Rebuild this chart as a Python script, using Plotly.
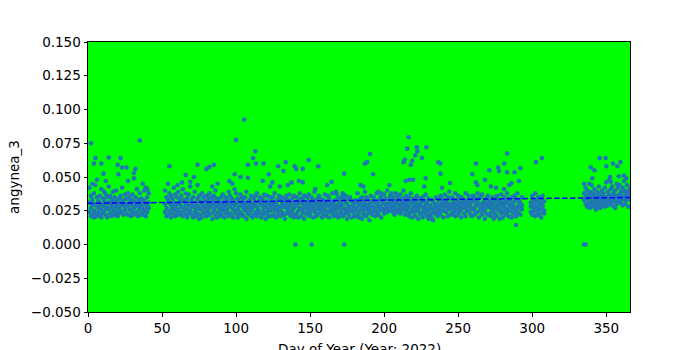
import numpy as np
import plotly.graph_objects as go

# Bulk daily readings (day, values in thousandths)
seg_winter = [
    (1, 31, 24, 42), (2, 27, 21, 36), (3, 33, 22, 29), (4, 25, 38, 20), (5, 30, 23, 44),
    (6, 28, 35, 21), (7, 24, 32, 27), (8, 36, 22, 30), (9, 26, 41, 20), (10, 29, 23, 34),
    (11, 32, 25, 39), (12, 22, 28, 37), (13, 35, 20, 27), (14, 26, 31, 43), (15, 23, 30, 36),
    (16, 33, 21, 28), (17, 25, 39, 31), (18, 28, 22, 35), (19, 32, 24, 40), (20, 21, 30, 27),
    (21, 27, 34, 23), (22, 36, 25, 31), (23, 24, 29, 42), (24, 30, 22, 33), (25, 26, 37, 28),
    (26, 34, 23, 30), (27, 22, 29, 38), (28, 31, 26, 35), (29, 25, 33, 21), (30, 29, 24, 37),
    (31, 27, 32, 22), (32, 35, 23, 29), (33, 24, 30, 41), (34, 28, 21, 33), (35, 31, 26, 38),
    (36, 23, 29, 34), (37, 27, 22, 32), (38, 33, 25, 40), (39, 26, 30, 21), (40, 29, 35, 24),
    (41, 31, 27, 38),
]
seg_spring = [
    (52, 30, 24, 40), (53, 27, 35, 21), (54, 33, 22, 45), (55, 25, 31, 38), (56, 29, 20, 36),
    (57, 23, 34, 27), (58, 31, 26, 42), (59, 21, 28, 37), (60, 35, 24, 30), (61, 26, 39, 22),
    (62, 30, 23, 33), (63, 24, 36, 28), (64, 32, 21, 41), (65, 27, 33, 25), (66, 22, 30, 38),
    (67, 34, 26, 20), (68, 29, 37, 23), (69, 25, 31, 43), (70, 33, 22, 28), (71, 20, 35, 30),
    (72, 28, 24, 39), (73, 31, 21, 26), (74, 23, 34, 29), (75, 36, 27, 19), (76, 26, 32, 22),
    (77, 30, 20, 38), (78, 24, 35, 28), (79, 32, 23, 27), (80, 21, 29, 36), (81, 34, 25, 31),
    (82, 27, 38, 22), (83, 23, 30, 35), (84, 29, 19, 33), (85, 25, 36, 27), (86, 31, 22, 40),
    (87, 20, 28, 34), (88, 33, 24, 29), (89, 26, 31, 21), (90, 22, 35, 28), (91, 30, 25, 37),
    (92, 27, 20, 32), (93, 35, 23, 29), (94, 24, 33, 26), (95, 31, 21, 39), (96, 28, 36, 23),
    (97, 22, 30, 34), (98, 33, 26, 20), (99, 25, 29, 41),
    (100, 30, 23, 38), (101, 26, 34, 20), (102, 32, 21, 28), (103, 24, 37, 31), (104, 29, 22, 35),
    (105, 21, 27, 33), (106, 35, 25, 30), (107, 27, 19, 39), (108, 23, 31, 26), (109, 33, 28, 22),
    (110, 25, 36, 30), (111, 30, 20, 27), (112, 22, 34, 29), (113, 36, 24, 31), (114, 28, 21, 38),
    (115, 24, 32, 26), (116, 31, 23, 35), (117, 20, 29, 33), (118, 34, 25, 22), (119, 27, 37, 30),
    (120, 23, 28, 19), (121, 32, 24, 36), (122, 26, 30, 21), (123, 29, 35, 25), (124, 21, 27, 32),
    (125, 35, 22, 29), (126, 25, 31, 38), (127, 30, 20, 27), (128, 22, 33, 26), (129, 28, 24, 36),
    (130, 34, 27, 21), (131, 24, 30, 35), (132, 31, 22, 28), (133, 19, 29, 33), (134, 27, 36, 23),
    (135, 33, 25, 30), (136, 23, 28, 37), (137, 30, 21, 32), (138, 26, 34, 24), (139, 36, 27, 20),
    (140, 22, 31, 29),
]
seg_summer = [
    (141, 29, 23, 35), (142, 25, 32, 20), (143, 31, 27, 38), (144, 21, 34, 26), (145, 33, 24, 30),
    (146, 27, 19, 36), (147, 23, 30, 28), (148, 35, 26, 22), (149, 28, 32, 37), (150, 24, 21, 30),
    (151, 30, 35, 26), (152, 20, 28, 33), (153, 32, 24, 39), (154, 26, 30, 21), (155, 29, 22, 34),
    (156, 23, 36, 27), (157, 34, 25, 31), (158, 27, 20, 29), (159, 22, 33, 25), (160, 31, 28, 37),
    (161, 25, 21, 32), (162, 36, 29, 24), (163, 28, 34, 20), (164, 24, 26, 31), (165, 30, 23, 38),
    (166, 21, 32, 27), (167, 33, 25, 29), (168, 26, 37, 22), (169, 29, 20, 34), (170, 23, 31, 27),
    (171, 35, 24, 30), (172, 27, 28, 21), (173, 22, 33, 36), (174, 31, 26, 24), (175, 25, 30, 19),
    (176, 34, 22, 28), (177, 28, 35, 25), (178, 20, 27, 32), (179, 32, 24, 29), (180, 26, 31, 21),
    (181, 27, 21, 33), (182, 31, 24, 38), (183, 23, 29, 20), (184, 34, 26, 30), (185, 28, 19, 35),
    (186, 25, 32, 22), (187, 30, 27, 39), (188, 21, 35, 26), (189, 33, 23, 29), (190, 26, 30, 18),
    (191, 29, 36, 24), (192, 22, 28, 32), (193, 35, 25, 27), (194, 27, 31, 21), (195, 24, 38, 30),
    (196, 32, 22, 28), (197, 28, 34, 25), (198, 20, 29, 36), (199, 31, 26, 33), (200, 25, 37, 23),
    (201, 34, 28, 30), (202, 27, 40, 24), (203, 30, 33, 26), (204, 36, 25, 29), (205, 28, 31, 38),
    (206, 24, 35, 27), (207, 33, 29, 22), (208, 26, 38, 31), (209, 31, 24, 36), (210, 29, 34, 26),
    (211, 37, 27, 23), (212, 25, 32, 30), (213, 34, 28, 40), (214, 22, 31, 27), (215, 30, 36, 25),
    (216, 27, 23, 33), (217, 35, 29, 21), (218, 24, 31, 38), (219, 32, 26, 20), (220, 28, 34, 24),
    (221, 21, 30, 27), (222, 33, 25, 36), (223, 26, 19, 29), (224, 30, 23, 34), (225, 22, 28, 31),
    (226, 35, 24, 20), (227, 27, 32, 25), (228, 23, 29, 37), (229, 31, 21, 26), (230, 25, 34, 19),
    (231, 29, 22, 28), (232, 20, 27, 33), (233, 32, 24, 18), (234, 26, 30, 23), (235, 23, 35, 28),
    (236, 30, 21, 26), (237, 27, 33, 24), (238, 22, 29, 36), (239, 34, 25, 30), (240, 28, 20, 32),
]
seg_autumn = [
    (241, 25, 31, 37), (242, 32, 24, 28), (243, 21, 29, 35), (244, 30, 26, 39), (245, 27, 34, 22),
    (246, 35, 23, 30), (247, 24, 31, 27), (248, 29, 38, 21), (249, 33, 26, 25), (250, 22, 30, 36),
    (251, 31, 24, 28), (252, 26, 35, 20), (253, 34, 28, 31), (254, 23, 33, 27), (255, 30, 21, 38),
    (256, 28, 32, 25), (257, 25, 36, 29), (258, 33, 23, 30), (259, 21, 31, 27), (260, 36, 26, 33),
    (261, 27, 22, 35), (262, 32, 29, 24), (263, 24, 38, 31), (264, 29, 20, 34), (265, 35, 27, 25),
    (266, 22, 30, 37), (267, 31, 25, 28), (268, 26, 33, 19), (269, 34, 23, 30), (270, 28, 36, 22),
    (271, 23, 29, 32), (272, 32, 21, 27), (273, 25, 35, 30), (274, 30, 24, 19), (275, 27, 33, 22),
    (276, 21, 28, 36), (277, 33, 25, 30), (278, 26, 19, 32), (279, 29, 37, 23), (280, 24, 31, 20),
    (281, 35, 27, 29), (282, 22, 33, 26), (283, 31, 24, 38), (284, 27, 21, 34), (285, 33, 29, 25),
    (286, 20, 35, 30), (287, 29, 23, 27), (288, 25, 32, 36), (289, 34, 26, 21), (290, 28, 38, 24),
    (291, 23, 30, 33), (292, 31, 27, 22), (293, 26, 35, 29),
    (299, 24, 31, 28), (300, 29, 22, 36), (301, 33, 25, 27), (302, 21, 30, 38), (303, 27, 24, 32),
    (304, 35, 28, 22), (305, 23, 31, 26), (306, 30, 20, 34), (307, 26, 36, 29), (308, 32, 23, 25),
]
seg_december = [
    (335, 33, 38, 45), (336, 30, 36, 42), (337, 28, 40, 34), (338, 31, 37, 29), (339, 35, 27, 39),
    (340, 32, 44, 29), (341, 38, 30, 35), (342, 28, 34, 41), (343, 36, 31, 26), (344, 33, 39, 28),
    (345, 30, 35, 43), (346, 37, 32, 27), (347, 34, 29, 40), (348, 31, 36, 38), (349, 28, 42, 33),
    (350, 35, 30, 46), (351, 39, 33, 29), (352, 32, 37, 48), (353, 36, 30, 41), (354, 29, 34, 43),
    (355, 38, 32, 36), (356, 33, 40, 27), (357, 30, 36, 45), (358, 35, 42, 31), (359, 37, 33, 44),
    (360, 31, 39, 36), (361, 34, 29, 42), (362, 40, 35, 47), (363, 33, 38, 30), (364, 36, 44, 39),
    (365, 35, 40, 28), (366, 38, 33, 42),
]
# Isolated readings (day, value in thousandths)
outliers = [
    (2, 75), (35, 77), (5, 64), (4, 60), (14, 64.5), (22, 64), (9, 60), (20, 59), (23, 57), (26, 57),
    (32, 56), (20.5, 52), (10.5, 52.5), (31, 53), (3, 45), (6, 48), (12, 47), (27, 47), (31, 49),
    (37, 45), (39, 42), (40, 41),
    (55, 58), (74, 59), (80, 56), (82, 57.5), (85, 59), (66, 51.5), (71.5, 50), (69, 46.5), (63.5, 46),
    (87.5, 45), (84, 43), (74, 44), (60.5, 44), (95.5, 47), (97.5, 45), (99, 52),
    (105.5, 92.5), (100, 77.5), (113, 69), (111.5, 64), (108, 59), (113.5, 60), (118.5, 60),
    (103, 50), (108, 49.5), (118, 47), (122, 52), (123, 43), (124.5, 46), (128.5, 58), (132, 54.5),
    (133.5, 61), (129.5, 43), (135, 44), (137.5, 46), (139.5, 58), (140.5, 56),
    (142.5, 47), (145, 56), (145, 46), (149, 62.5), (153.5, 41), (155.5, 58), (161.5, 44),
    (164.5, 46.5), (167.5, 39), (172, 38), (173, 52.5), (174, 36),
    (140, 0), (151, 0), (173, 0),
    (190.5, 67), (187, 60), (188.5, 61), (192.5, 52), (184, 44), (186, 43), (203.5, 44), (196, 39),
    (198, 38), (213, 61), (214, 63), (215.5, 71), (216.5, 79.5), (218, 59), (219, 62), (221, 66),
    (222, 72), (222.5, 69), (225.5, 64), (228.5, 72), (228, 49), (227, 43), (214.5, 47), (217, 48),
    (219.5, 48), (236.5, 61), (238, 60), (238, 52.5), (239, 42),
    (283, 67.5), (262, 60), (281, 60), (271, 55), (277, 57), (277.5, 54.5), (283, 53.5), (288, 53.5),
    (292, 56.5), (259.5, 52), (268, 48), (244.5, 45.5), (262, 46), (263, 44), (272, 43), (275.5, 42),
    (281, 41), (284.5, 44), (286, 45.5), (291, 47), (289, 14.5),
    (302.5, 61), (306.5, 64),
    (335, 0), (336, 0), (345.5, 64), (349.5, 64), (350, 58), (354.5, 60), (357.5, 58), (359.5, 61),
    (339.5, 57), (342, 55), (340.5, 49), (338.5, 45), (352.5, 50), (353, 46.5), (358.5, 50.5),
    (362, 51), (363.5, 49),
]
# Linear trend (day, value)
trend_days = [0, 366]
trend_vals = [0.0305, 0.0348]

x_title = "Day of Year (Year: 2022)"
y_title = "angynea_3"

xs, ys = [], []
for seg in (seg_winter, seg_spring, seg_summer, seg_autumn, seg_december):
    for row in seg:
        for v in row[1:]:
            xs.append(row[0])
            ys.append(v / 1000.0)
for d, v in outliers:
    xs.append(d)
    ys.append(v / 1000.0)

font = "DejaVu Sans, Arial, sans-serif"
fig = go.Figure()
fig.add_trace(go.Scatter(
    x=xs, y=ys, mode="markers",
    marker=dict(size=4.6, color="#1f77b4", line=dict(width=0)),
    showlegend=False, hoverinfo="skip",
))
fig.add_trace(go.Scatter(
    x=trend_days, y=trend_vals, mode="lines",
    line=dict(color="#0000ff", width=1.5, dash="5.5px,2.4px"),
    showlegend=False, hoverinfo="skip",
))

axis_common = dict(
    showline=True, linecolor="black", linewidth=1, mirror=True,
    ticks="outside", ticklen=3.5, tickwidth=1, tickcolor="black",
    showgrid=False, zeroline=False,
    tickfont=dict(family=font, size=13.5, color="black"),
)
fig.update_layout(
    width=700, height=350,
    margin=dict(l=88, r=70, t=42, b=38),
    paper_bgcolor="white", plot_bgcolor="#00ff00",
    font=dict(family=font, size=13.5, color="black"),
    xaxis=dict(range=[0, 366], tickmode="linear", tick0=0, dtick=50,
               automargin=False, **axis_common),
    yaxis=dict(range=[-0.05, 0.15], tickmode="linear", tick0=-0.05, dtick=0.025,
               tickformat=".3f",
               title=dict(text=y_title, standoff=8, font=dict(family=font, size=13.5)),
               automargin=False, **axis_common),
)
fig.add_annotation(
    text=x_title, xref="paper", yref="paper", x=0.5, y=0,
    xanchor="center", yanchor="top", yshift=-27, showarrow=False,
    font=dict(family=font, size=13.5, color="black"),
)
fig.write_html("out.html")
